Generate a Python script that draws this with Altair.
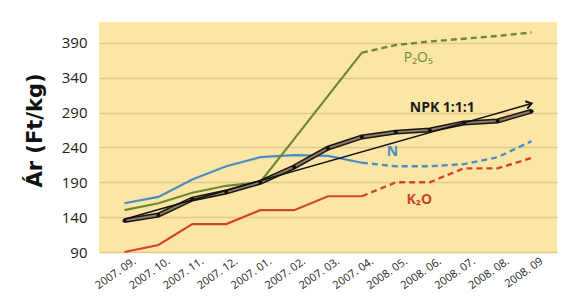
import altair as alt
import pandas as pd

months = ["2007. 09.", "2007. 10.", "2007. 11.", "2007. 12.", "2007. 01.", "2007. 02.",
          "2007. 03.", "2007. 04.", "2008. 05.", "2008. 06.", "2008. 07.", "2008. 08.", "2008. 09"]

n_vals = [160, 169, 194, 213, 226, 229, 228, 218, 213, 213, 216, 226, 249]
p_vals = [150, 160, 175, 185, 190, 252, 314, 376, 387, 392, 396, 400, 405]
k_vals = [90, 100, 130, 130, 150, 150, 170, 170, 190, 190, 210, 210, 225]
npk_vals = [135, 143, 166, 176, 190, 212, 239, 255, 262, 265, 275, 278, 292]
trend_vals = [137, 303]

solid_until = 7  # index of 2007.04. (solid part ends here, dashed after)

rows = []
for name, vals in [("N", n_vals), ("P2O5", p_vals), ("K2O", k_vals)]:
    for i, (m, v) in enumerate(zip(months, vals)):
        if i <= solid_until:
            rows.append({"series": name, "part": "solid", "month": m, "value": v, "key": name + "s"})
        if i >= solid_until:
            rows.append({"series": name, "part": "dash", "month": m, "value": v, "key": name + "d"})
df = pd.DataFrame(rows)
npk = pd.DataFrame({"month": months, "value": npk_vals})
trend = pd.DataFrame({"month": [months[0], months[-1]], "value": trend_vals})
arrow = pd.DataFrame({"month": [months[-1]], "value": [trend_vals[-1]]})

labels = pd.DataFrame({
    "month": [months[9], months[9], months[8], months[9]],
    "value": [368, 297, 233, 165],
    "text": ["P₂O₅", "NPK 1:1:1", "N", "K₂O"],
    "color": ["#6b8a2c", "#1a1a1a", "#4a8cc4", "#cc4428"],
    "dx": [-3, 21, 5, -2],
    "bold": [False, True, True, True],
})

colors = alt.Scale(domain=["N", "P2O5", "K2O"], range=["#4a8cc4", "#6b8a2c", "#d4452a"])

x = alt.X("month:N", sort=months, title=None,
          scale=alt.Scale(domain=months, padding=0.5),
          axis=alt.Axis(labelAngle=325, labelAlign="right", labelBaseline="top",
                        labelFont="Open Sans", labelFontSize=11, labelColor="#222",
                        labelPadding=3, labelOffset=7, ticks=False, domain=False, grid=False,
                        labelOverlap=False))
y = alt.Y("value:Q", title="Ár (Ft/kg)",
          scale=alt.Scale(domain=[90, 420], nice=False, zero=False),
          axis=alt.Axis(values=[90, 140, 190, 240, 290, 340, 390], ticks=False, domain=False,
                        labelFont="Open Sans", labelFontSize=15, labelColor="#222",
                        labelPadding=12, gridColor="#e2c98a", gridWidth=1.5,
                        titleFont="DejaVu Sans", titleFontSize=21, titleFontWeight="bold",
                        titleColor="#111", titleX=-64, titleY=108, titleAngle=270,
                        titleBaseline="middle", titleAlign="center"))

base = alt.Chart(df)
solid = base.transform_filter("datum.part == 'solid'").mark_line(strokeWidth=2.2).encode(
    x=x, y=y, color=alt.Color("series:N", scale=colors, legend=None), detail="key:N")
dash = base.transform_filter("datum.part == 'dash'").mark_line(strokeWidth=2.4, strokeDash=[6, 4]).encode(
    x=x, y=y, color=alt.Color("series:N", scale=colors, legend=None), detail="key:N")

npk_base = alt.Chart(npk).encode(x=x, y=y)
npk_outer = npk_base.mark_line(color="#1c1612", strokeWidth=5)
npk_inner = npk_base.mark_line(color="#8c7c62", strokeWidth=2)
npk_pts = npk_base.mark_circle(color="#111", size=16, opacity=1)

trend_line = alt.Chart(trend).mark_line(color="#111", strokeWidth=1.5).encode(x=x, y=y)
arrow_head = alt.Chart(arrow).mark_point(shape="M-1,-0.7L0,0L-1,0.7", filled=False, color="#111",
                                          strokeWidth=2, size=120, angle=345, opacity=1).encode(x=x, y=y)

lab = alt.Chart(labels)
enc = dict(x=x, y=y, text="text:N", color=alt.Color("color:N", scale=None),
           xOffset=alt.XOffset("dx:Q", scale=None))
text_b = lab.transform_filter("datum.bold").mark_text(font="Open Sans", fontSize=14, fontWeight="bold").encode(**enc)
text_n = lab.transform_filter("!datum.bold").mark_text(font="Open Sans", fontSize=14).encode(**enc)

chart = alt.layer(solid, dash, npk_outer, npk_inner, npk_pts, trend_line, arrow_head, text_b, text_n).properties(
    width=458, height=230,
    padding={"left": 91, "top": 14, "right": 2, "bottom": 41},
    autosize=alt.AutoSizeParams(type="none"),
    background="white",
).configure_view(fill="#fce6a6", stroke=None)

chart.save("out.html", embed_options={"renderer": "svg", "actions": False})
